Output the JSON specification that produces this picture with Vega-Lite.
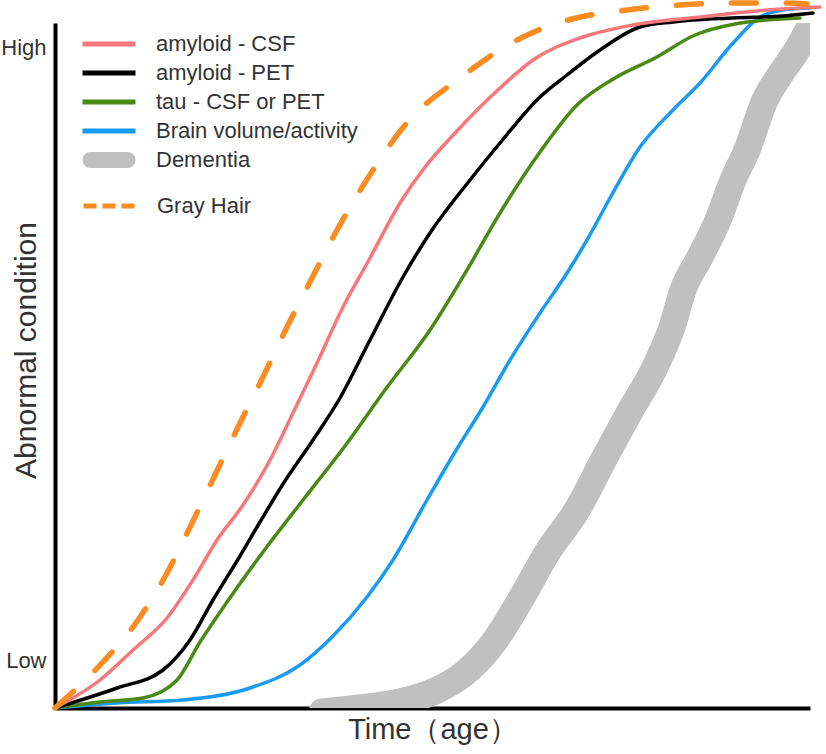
{
  "$schema": "https://vega.github.io/schema/vega-lite/v6.json",
  "width": 755,
  "height": 685,
  "autosize": {"type": "none"},
  "padding": {"left": 55, "top": 23, "right": 16, "bottom": 46},
  "background": "white",
  "config": {
    "view": {"stroke": null},
    "font": "Liberation Sans"
  },
  "datasets": {
    "curves": [
      {"series": "Dementia", "x": 267, "y": -4},
      {"series": "Dementia", "x": 305, "y": 0},
      {"series": "Dementia", "x": 345, "y": 6},
      {"series": "Dementia", "x": 380, "y": 17},
      {"series": "Dementia", "x": 410, "y": 35},
      {"series": "Dementia", "x": 439, "y": 66},
      {"series": "Dementia", "x": 467, "y": 111},
      {"series": "Dementia", "x": 492, "y": 155},
      {"series": "Dementia", "x": 522, "y": 198},
      {"series": "Dementia", "x": 550, "y": 251},
      {"series": "Dementia", "x": 574, "y": 295},
      {"series": "Dementia", "x": 600, "y": 341},
      {"series": "Dementia", "x": 617, "y": 381},
      {"series": "Dementia", "x": 628, "y": 418},
      {"series": "Dementia", "x": 645, "y": 451},
      {"series": "Dementia", "x": 663, "y": 488},
      {"series": "Dementia", "x": 678, "y": 528},
      {"series": "Dementia", "x": 692, "y": 558},
      {"series": "Dementia", "x": 710, "y": 608},
      {"series": "Dementia", "x": 725, "y": 633},
      {"series": "Dementia", "x": 742, "y": 658},
      {"series": "Dementia", "x": 753, "y": 678},
      {"series": "Dementia", "x": 760, "y": 690},

      {"series": "Brain volume/activity", "x": 0, "y": 0},
      {"series": "Brain volume/activity", "x": 62, "y": 5},
      {"series": "Brain volume/activity", "x": 128, "y": 8},
      {"series": "Brain volume/activity", "x": 195, "y": 20},
      {"series": "Brain volume/activity", "x": 245, "y": 43},
      {"series": "Brain volume/activity", "x": 278, "y": 72},
      {"series": "Brain volume/activity", "x": 312, "y": 111},
      {"series": "Brain volume/activity", "x": 338, "y": 148},
      {"series": "Brain volume/activity", "x": 372, "y": 208},
      {"series": "Brain volume/activity", "x": 400, "y": 256},
      {"series": "Brain volume/activity", "x": 428, "y": 301},
      {"series": "Brain volume/activity", "x": 455, "y": 348},
      {"series": "Brain volume/activity", "x": 485, "y": 395},
      {"series": "Brain volume/activity", "x": 512, "y": 435},
      {"series": "Brain volume/activity", "x": 532, "y": 468},
      {"series": "Brain volume/activity", "x": 555, "y": 510},
      {"series": "Brain volume/activity", "x": 585, "y": 561},
      {"series": "Brain volume/activity", "x": 618, "y": 598},
      {"series": "Brain volume/activity", "x": 645, "y": 625},
      {"series": "Brain volume/activity", "x": 678, "y": 665},
      {"series": "Brain volume/activity", "x": 705, "y": 691},
      {"series": "Brain volume/activity", "x": 728, "y": 698},
      {"series": "Brain volume/activity", "x": 755, "y": 700},

      {"series": "tau - CSF or PET", "x": 0, "y": 0},
      {"series": "tau - CSF or PET", "x": 45, "y": 6},
      {"series": "tau - CSF or PET", "x": 88, "y": 10},
      {"series": "tau - CSF or PET", "x": 122, "y": 28},
      {"series": "tau - CSF or PET", "x": 145, "y": 66},
      {"series": "tau - CSF or PET", "x": 172, "y": 106},
      {"series": "tau - CSF or PET", "x": 208, "y": 156},
      {"series": "tau - CSF or PET", "x": 248, "y": 208},
      {"series": "tau - CSF or PET", "x": 290, "y": 262},
      {"series": "tau - CSF or PET", "x": 330, "y": 318},
      {"series": "tau - CSF or PET", "x": 375, "y": 378},
      {"series": "tau - CSF or PET", "x": 412, "y": 438},
      {"series": "tau - CSF or PET", "x": 445, "y": 495},
      {"series": "tau - CSF or PET", "x": 485, "y": 556},
      {"series": "tau - CSF or PET", "x": 522, "y": 603},
      {"series": "tau - CSF or PET", "x": 560, "y": 630},
      {"series": "tau - CSF or PET", "x": 600, "y": 650},
      {"series": "tau - CSF or PET", "x": 640, "y": 673},
      {"series": "tau - CSF or PET", "x": 680, "y": 684},
      {"series": "tau - CSF or PET", "x": 712, "y": 688},
      {"series": "tau - CSF or PET", "x": 745, "y": 690},

      {"series": "amyloid - PET", "x": 0, "y": 0},
      {"series": "amyloid - PET", "x": 62, "y": 20},
      {"series": "amyloid - PET", "x": 108, "y": 38},
      {"series": "amyloid - PET", "x": 135, "y": 68},
      {"series": "amyloid - PET", "x": 158, "y": 108},
      {"series": "amyloid - PET", "x": 182, "y": 147},
      {"series": "amyloid - PET", "x": 205, "y": 186},
      {"series": "amyloid - PET", "x": 228, "y": 224},
      {"series": "amyloid - PET", "x": 258, "y": 268},
      {"series": "amyloid - PET", "x": 285, "y": 310},
      {"series": "amyloid - PET", "x": 315, "y": 368},
      {"series": "amyloid - PET", "x": 348, "y": 431},
      {"series": "amyloid - PET", "x": 375, "y": 475},
      {"series": "amyloid - PET", "x": 415, "y": 528},
      {"series": "amyloid - PET", "x": 445, "y": 565},
      {"series": "amyloid - PET", "x": 485, "y": 611},
      {"series": "amyloid - PET", "x": 512, "y": 633},
      {"series": "amyloid - PET", "x": 545, "y": 658},
      {"series": "amyloid - PET", "x": 585, "y": 681},
      {"series": "amyloid - PET", "x": 618, "y": 686},
      {"series": "amyloid - PET", "x": 678, "y": 690},
      {"series": "amyloid - PET", "x": 728, "y": 692},
      {"series": "amyloid - PET", "x": 758, "y": 695},

      {"series": "amyloid - CSF", "x": 0, "y": 0},
      {"series": "amyloid - CSF", "x": 45, "y": 28},
      {"series": "amyloid - CSF", "x": 78, "y": 58},
      {"series": "amyloid - CSF", "x": 112, "y": 90},
      {"series": "amyloid - CSF", "x": 138, "y": 128},
      {"series": "amyloid - CSF", "x": 162, "y": 168},
      {"series": "amyloid - CSF", "x": 188, "y": 203},
      {"series": "amyloid - CSF", "x": 215, "y": 248},
      {"series": "amyloid - CSF", "x": 238, "y": 295},
      {"series": "amyloid - CSF", "x": 262, "y": 345},
      {"series": "amyloid - CSF", "x": 288, "y": 401},
      {"series": "amyloid - CSF", "x": 315, "y": 450},
      {"series": "amyloid - CSF", "x": 345, "y": 505},
      {"series": "amyloid - CSF", "x": 370, "y": 541},
      {"series": "amyloid - CSF", "x": 400, "y": 575},
      {"series": "amyloid - CSF", "x": 445, "y": 620},
      {"series": "amyloid - CSF", "x": 478, "y": 648},
      {"series": "amyloid - CSF", "x": 528, "y": 671},
      {"series": "amyloid - CSF", "x": 578, "y": 683},
      {"series": "amyloid - CSF", "x": 645, "y": 691},
      {"series": "amyloid - CSF", "x": 712, "y": 698},
      {"series": "amyloid - CSF", "x": 765, "y": 701},

      {"series": "Gray Hair", "x": 0, "y": 0},
      {"series": "Gray Hair", "x": 22, "y": 20},
      {"series": "Gray Hair", "x": 48, "y": 46},
      {"series": "Gray Hair", "x": 83, "y": 88},
      {"series": "Gray Hair", "x": 112, "y": 135},
      {"series": "Gray Hair", "x": 137, "y": 185},
      {"series": "Gray Hair", "x": 160, "y": 233},
      {"series": "Gray Hair", "x": 185, "y": 285},
      {"series": "Gray Hair", "x": 208, "y": 331},
      {"series": "Gray Hair", "x": 232, "y": 381},
      {"series": "Gray Hair", "x": 257, "y": 430},
      {"series": "Gray Hair", "x": 282, "y": 478},
      {"series": "Gray Hair", "x": 318, "y": 538},
      {"series": "Gray Hair", "x": 350, "y": 583},
      {"series": "Gray Hair", "x": 405, "y": 630},
      {"series": "Gray Hair", "x": 466, "y": 670},
      {"series": "Gray Hair", "x": 517, "y": 689},
      {"series": "Gray Hair", "x": 572, "y": 698},
      {"series": "Gray Hair", "x": 625, "y": 703},
      {"series": "Gray Hair", "x": 680, "y": 705},
      {"series": "Gray Hair", "x": 730, "y": 705},
      {"series": "Gray Hair", "x": 752, "y": 704}
    ]
  },
  "data": {"name": "curves"},
  "encoding": {
    "x": {
      "field": "x",
      "type": "quantitative",
      "scale": {"domain": [0, 755], "nice": false, "zero": false},
      "axis": {
        "domain": true,
        "domainColor": "#000000",
        "domainWidth": 4,
        "ticks": false,
        "labels": false,
        "grid": false,
        "title": "Time（age）",
        "titleFont": "Liberation Sans",
        "titleFontSize": 29,
        "titleFontWeight": "normal",
        "titleColor": "#333333",
        "titlePadding": 7
      }
    },
    "y": {
      "field": "y",
      "type": "quantitative",
      "scale": {"domain": [0, 685], "nice": false, "zero": false},
      "axis": {
        "domain": true,
        "domainColor": "#000000",
        "domainWidth": 4,
        "ticks": false,
        "tickSize": 0,
        "grid": false,
        "values": [48, 661],
        "labelExpr": "datum.value > 300 ? 'High' : 'Low'",
        "labelFont": "Liberation Sans",
        "labelFontSize": 22,
        "labelColor": "#333333",
        "labelPadding": 9,
        "title": "Abnormal condition",
        "titleFont": "Liberation Sans",
        "titleFontSize": 30,
        "titleFontWeight": "normal",
        "titleColor": "#333333",
        "titleAngle": -90,
        "titleX": -29,
        "titleY": 327,
        "titleAlign": "center",
        "titleBaseline": "middle"
      }
    }
  },
  "layer": [
    {
      "transform": [{"filter": "datum.series === 'Dementia'"}],
      "mark": {"type": "line", "interpolate": "monotone", "strokeWidth": 27, "strokeCap": "round", "strokeJoin": "round", "clip": true},
      "encoding": {
        "color": {
          "field": "series",
          "type": "nominal",
          "scale": {
            "domain": ["amyloid - CSF", "amyloid - PET", "tau - CSF or PET", "Brain volume/activity", "Dementia"],
            "range": ["#F8777B", "#000000", "#4A8A14", "#1A9BF2", "#C0C0C0"]
          },
          "legend": {
            "title": null,
            "orient": "none",
            "legendX": 43,
            "legendY": 10,
            "symbolType": "stroke",
            "symbolSize": 2809,
            "symbolStrokeWidth": 5,
            "labelFont": "Liberation Sans",
            "labelFontSize": 22,
            "labelColor": "#333333",
            "labelOffset": 36,
            "labelLimit": 400,
            "rowPadding": 7,
            "encode": {
              "symbols": {
                "update": {
                  "strokeWidth": {"signal": "datum.value === 'Dementia' ? 16 : 5"},
                  "strokeJoin": {"value": "round"},
                  "strokeCap": {"signal": "datum.value === 'Dementia' ? 'round' : 'butt'"},
                  "size": {"signal": "datum.value === 'Dementia' ? 1369 : 2809"},
                  "stroke": {"signal": "datum.value === 'Dementia' ? '#A8A8A8' : scale('color', datum.value)"}
                }
              }
            }
          }
        }
      }
    },
    {
      "transform": [{"filter": "datum.series !== 'Dementia' && datum.series !== 'Gray Hair'"}],
      "mark": {"type": "line", "interpolate": "monotone", "strokeWidth": 3.5, "strokeCap": "round", "strokeJoin": "round"},
      "encoding": {
        "color": {"field": "series", "type": "nominal"}
      }
    },
    {
      "transform": [{"filter": "datum.series === 'Gray Hair'"}],
      "mark": {"type": "line", "interpolate": "monotone", "strokeWidth": 5.5, "strokeCap": "round", "strokeDash": [25, 30], "color": "#FA8C22"},
      "encoding": {
        "opacity": {
          "field": "series",
          "type": "ordinal",
          "scale": {"domain": ["Gray Hair"], "range": [1, 1]},
          "legend": {
            "title": null,
            "orient": "none",
            "legendX": 26,
            "legendY": 154,
            "symbolType": "stroke",
            "symbolSize": 2809,
            "symbolStrokeWidth": 5,
            "symbolStrokeColor": "#FA8C22",
            "symbolDash": [13, 6],
            "labelFont": "Liberation Sans",
            "labelFontSize": 22,
            "labelColor": "#333333",
            "labelOffset": 18,
            "labelLimit": 400,
            "encode": {
              "symbols": {
                "update": {
                  "shape": {"value": "stroke"},
                  "size": {"value": 2809},
                  "fill": {"value": "transparent"},
                  "stroke": {"value": "#FA8C22"},
                  "strokeWidth": {"value": 5},
                  "strokeDash": {"value": [13, 6]},
                  "opacity": {"value": 1}
                }
              }
            }
          }
        }
      }
    }
  ]
}
